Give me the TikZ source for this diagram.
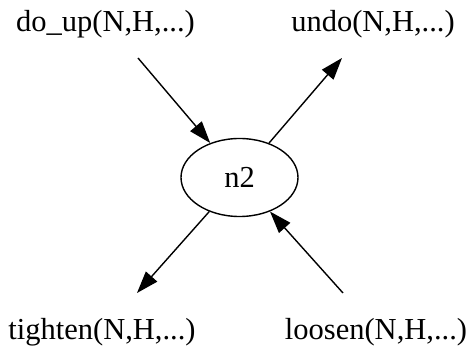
\documentclass[tikz,border=0pt]{standalone}
\usepackage{fontspec}
\setmainfont{Liberation Serif}
\usetikzlibrary{arrows.meta,shapes.geometric}

\begin{document}
\begin{tikzpicture}[x=1pt,y=-1pt,
		state/.style={draw, ellipse, line width=1.4pt, minimum width=117pt, minimum height=78pt, inner sep=0pt},
		lbl/.style={inner sep=0pt, anchor=base},
		edge/.style={line width=1.4pt, -{Triangle[length=22pt,width=15pt]}}]
		\useasboundingbox (0,0) rectangle (467,350);
		\fontsize{30.5}{36}\selectfont
		\node [state] (n2) at (239.5,177.5) {n2};
		\node [lbl] (doup) at (105.5,31.7) {do\_up(N,H,...)};
		\node [lbl] (undo) at (373,31.7) {undo(N,H,...)};
		\node [lbl] (tighten) at (102,340) {tighten(N,H,...)};
		\node [lbl] (loosen) at (376,340) {loosen(N,H,...)};
		\coordinate (doupend) at (138,58);
		\coordinate (undoend) at (342,58);
		\coordinate (tightenend) at (137,293);
		\coordinate (loosenend) at (343,293);
		\draw [edge] (doupend) -- (n2);
		\draw [edge] (n2) -- (undoend);
		\draw [edge] (n2) -- (tightenend);
		\draw [edge] (loosenend) -- (n2);
	\end{tikzpicture}
\end{document}
